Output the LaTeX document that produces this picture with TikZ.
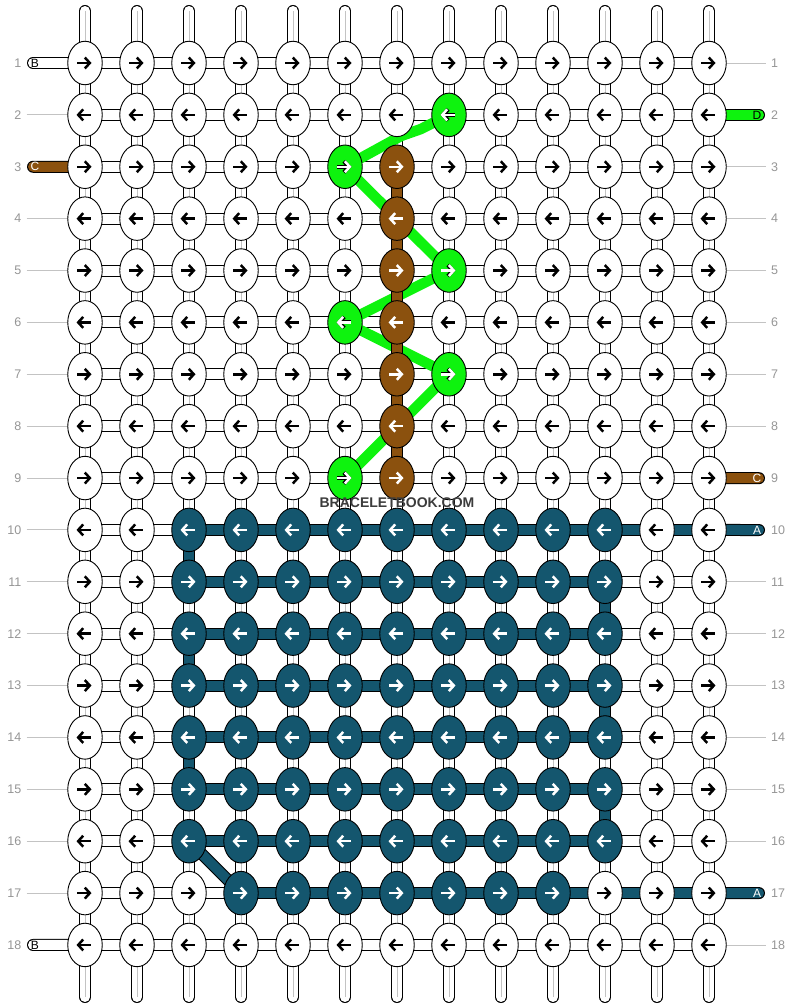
\documentclass[tikz,border=0pt]{standalone}
\usepackage{fontspec}
\setmainfont{Liberation Sans}
\usetikzlibrary{arrows.meta,shapes.geometric}
\definecolor{kgreen}{RGB}{14,243,14}
\definecolor{kbrown}{RGB}{139,81,14}
\definecolor{kteal}{RGB}{20,86,110}
\definecolor{numgray}{RGB}{150,150,150}
\definecolor{linegray}{RGB}{195,195,195}
\definecolor{wmark}{RGB}{60,60,60}
\pgfdeclarelayer{bg}
\pgfsetlayers{bg,main}
\tikzset{
  knot/.style={ellipse, draw=black, line width=0.9pt, minimum width=34.5pt, minimum height=43.5pt, inner sep=0pt, outer sep=0pt},
  wire/.style={double=#1, double distance=10pt, line width=1pt},
  wire/.default=white,
  gline/.style={draw=linegray, line width=0.9pt},
  arr/.style={line width=2.5pt, -{Straight Barb[length=5pt,width=11pt]}},
  arrout/.style={line width=3.9pt, -{Straight Barb[length=5pt,width=11pt]}},
  num/.style={font=\fontsize{12.5}{14}\selectfont, text=numgray, inner sep=0pt},
  tablabel/.style={font=\fontsize{12}{13}\selectfont, inner sep=0pt},
  greenstr/.style={draw=kgreen, line width=10.5pt, line join=round},
}
\def\wh{white}
% colour of the vertical connector between row #1 and row #1+1 in column #2
\newcommand\setvc[2]{%
  \def\vc{white}%
  \ifnum#2=7 \ifnum#1>2 \ifnum#1<9 \def\vc{kbrown}\fi\fi\fi
  \ifnum#2=3 \ifnum#1>9 \ifnum#1<15 \ifodd#1 \else\def\vc{kteal}\fi\fi\fi\fi
  \ifnum#2=11 \ifnum#1>10 \ifnum#1<16 \ifodd#1 \def\vc{kteal}\fi\fi\fi\fi
}
% colour of the horizontal connector between column #2 and #2+1 in row #1
\newcommand\sethc[2]{%
  \def\hc{white}%
  \ifnum#1>9 \ifnum#1<17 \ifnum#2>2 \ifnum#2<11 \def\hc{kteal}\fi\fi\fi\fi
  \ifnum#1=10 \ifnum#2>2 \def\hc{kteal}\fi\fi
  \ifnum#1=17 \ifnum#2>3 \def\hc{kteal}\fi\fi
}
\foreach \p in {2-8,3-6,5-8,6-6,7-8,9-6}{\expandafter\gdef\csname gk\p\endcsname{}}
\begin{document}
\begin{tikzpicture}[x=1pt,y=-1pt]
\path[use as bounding box] (0,0) rectangle (792,1008);

% knots
\foreach \r in {1,...,18}{
  \foreach \c in {1,...,13}{
    \def\kf{white}\def\ka{black}%
    \ifnum\r>9 \ifnum\r<17 \ifnum\c>2 \ifnum\c<12 \def\kf{kteal}\def\ka{white}\fi\fi\fi\fi
    \ifnum\r=17 \ifnum\c>3 \ifnum\c<11 \def\kf{kteal}\def\ka{white}\fi\fi\fi
    \ifnum\c=7 \ifnum\r>2 \ifnum\r<10 \def\kf{kbrown}\def\ka{white}\fi\fi\fi
    \ifcsname gk\r-\c\endcsname \def\kf{kgreen}\def\ka{white}\fi
    \node[knot, fill=\kf] (k-\r-\c) at ({85+(\c-1)*52},{63+(\r-1)*51.88}) {};
    \ifodd\r
      \ifcsname gk\r-\c\endcsname \draw[arrout,black] ([xshift=-8pt]k-\r-\c.center) -- ([xshift=6.5pt]k-\r-\c.center);\fi
      \draw[arr,\ka] ([xshift=-8pt]k-\r-\c.center) -- ([xshift=6.5pt]k-\r-\c.center);
    \else
      \ifcsname gk\r-\c\endcsname \draw[arrout,black] ([xshift=5.5pt]k-\r-\c.center) -- ([xshift=-8.5pt]k-\r-\c.center);\fi
      \draw[arr,\ka] ([xshift=5.5pt]k-\r-\c.center) -- ([xshift=-8.5pt]k-\r-\c.center);
    \fi
  }
}

% row numbers
\foreach \r in {1,...,18}{
  \node[num, anchor=east] (nl-\r) at (21.5,{63+(\r-1)*51.88}) {\r};
  \node[num, anchor=west] (nr-\r) at (771,{63+(\r-1)*51.88}) {\r};
}

% watermark
\node[font=\bfseries\fontsize{14}{16}\selectfont, text=wmark, inner sep=0pt] (wm) at (397,503) {BRACELETBOOK.COM};

\begin{pgfonlayer}{bg}
  \fill[white] (0,0) rectangle (792,1008);
  % top and bottom strand ends
  \foreach \c in {1,...,13}{
    \coordinate (t-\c) at ({85+(\c-1)*52},11);
    \coordinate (b-\c) at ({85+(\c-1)*52},997);
    \draw[wire, line cap=round] (t-\c) -- (k-1-\c.center);
    \draw[gline] (t-\c) -- (k-1-\c.center);
    \draw[wire, line cap=round] (b-\c) -- (k-18-\c.center);
    \draw[gline] (b-\c) -- (k-18-\c.center);
  }
  % white vertical connectors
  \foreach \r [evaluate=\r as \rn using int(\r+1)] in {1,...,17}{
    \foreach \c in {1,...,13}{
      \setvc{\r}{\c}%
      \ifx\vc\wh
        \draw[wire] (k-\r-\c.center) -- (k-\rn-\c.center);
        \draw[gline] (k-\r-\c.center) -- (k-\rn-\c.center);
      \fi
    }
  }
  % horizontal connectors
  \foreach \r in {1,...,18}{
    \foreach \c [evaluate=\c as \cn using int(\c+1)] in {1,...,12}{
      \sethc{\r}{\c}%
      \draw[wire=\hc] (k-\r-\c.center) -- (k-\r-\cn.center);
    }
  }
  % tabs left
  \coordinate (tl-1) at (33,63);
  \coordinate (tl-3) at (33,166.76);
  \coordinate (tl-18) at (33,944.96);
  \draw[wire, line cap=round] (tl-1) -- (k-1-1.center);
  \draw[wire=kbrown, line cap=round] (tl-3) -- (k-3-1.center);
  \draw[wire, line cap=round] (tl-18) -- (k-18-1.center);
  % tabs right
  \coordinate (tr-2) at (759,114.88);
  \coordinate (tr-9) at (759,478.16);
  \coordinate (tr-10) at (759,530.04);
  \coordinate (tr-17) at (759,893.08);
  \draw[wire=kgreen, line cap=round] (tr-2) -- (k-2-13.center);
  \draw[wire=kbrown, line cap=round] (tr-9) -- (k-9-13.center);
  \draw[wire=kteal, line cap=round] (tr-10) -- (k-10-13.center);
  \draw[wire=kteal, line cap=round] (tr-17) -- (k-17-13.center);
  % gray guide lines
  \foreach \r in {2,4,5,6,7,8,9,10,11,12,13,14,15,16,17}{
    \draw[gline] ([xshift=5pt]nl-\r.east) -- (k-\r-1.west);
  }
  \foreach \r in {1,3,4,5,6,7,8,11,12,13,14,15,16,18}{
    \draw[gline] (k-\r-13.east) -- ([xshift=-5pt]nr-\r.west);
  }
  % green strand
  \coordinate (g1) at (421,129);
  \coordinate (g2) at (401,136);
  \draw[greenstr] (k-2-8.center) -- (g1) -- (g2) -- (k-3-6.center) -- (k-5-8.center) -- (k-6-6.center) -- (k-7-8.center) -- (k-9-6.center);
  % coloured vertical connectors
  \foreach \r [evaluate=\r as \rn using int(\r+1)] in {1,...,17}{
    \foreach \c in {1,...,13}{
      \setvc{\r}{\c}%
      \ifx\vc\wh\else
        \draw[wire=\vc] (k-\r-\c.center) -- (k-\rn-\c.center);
      \fi
    }
  }
  % teal diagonal
  \draw[wire=kteal] (k-16-3.center) -- (k-17-4.center);
\end{pgfonlayer}

% tab labels
\node[tablabel, text=black] (lb-1) at (35,63) {B};
\node[tablabel, text=white] (lb-3) at (35,166.76) {C};
\node[tablabel, text=black] (lb-18) at (35,944.96) {B};
\node[tablabel, text=black] (lb-r2) at (757,114.88) {D};
\node[tablabel, text=white] (lb-r9) at (757,478.16) {C};
\node[tablabel, text=white] (lb-r10) at (757,530.04) {A};
\node[tablabel, text=white] (lb-r17) at (757,893.08) {A};
\end{tikzpicture}
\end{document}
